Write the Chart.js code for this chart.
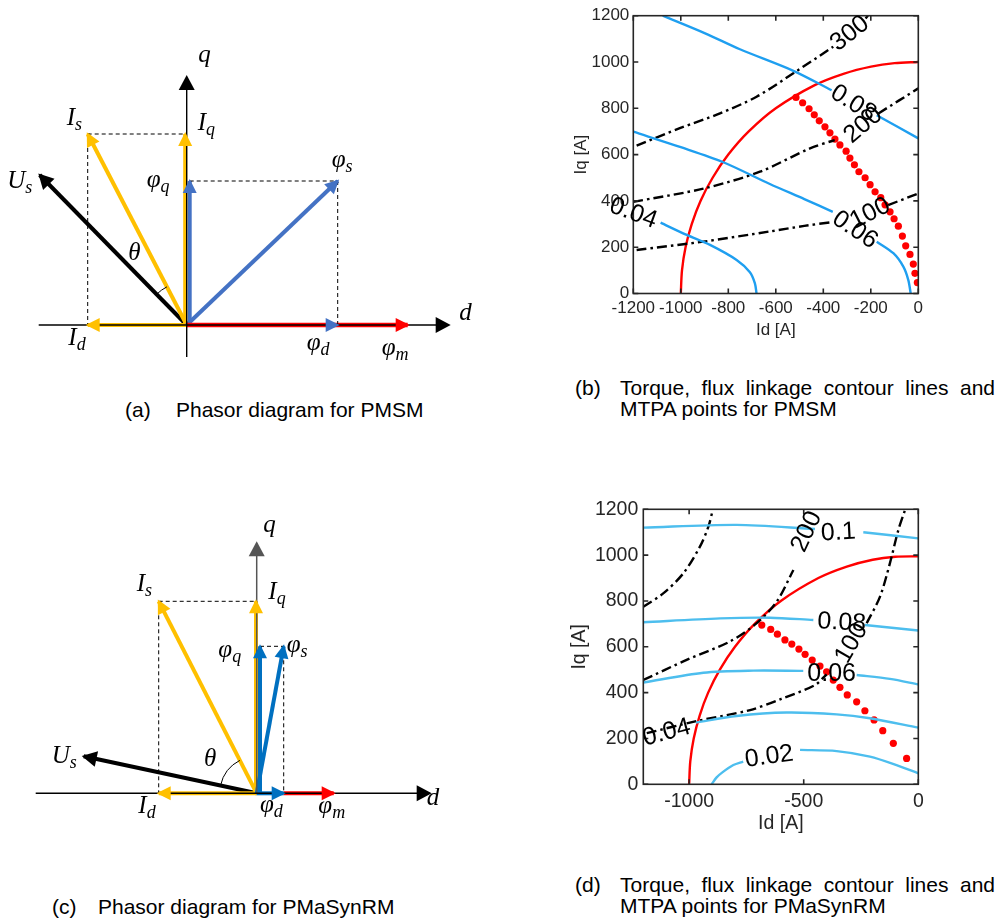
<!DOCTYPE html>
<html>
<head>
<meta charset="utf-8">
<script src="https://cdn.jsdelivr.net/npm/chart.js@4/dist/chart.umd.min.js"></script>
<style>
  html, body { margin: 0; padding: 0; background: #fff; }
  body { width: 1003px; height: 918px; position: relative; overflow: hidden;
         font-family: "Liberation Sans", Arial, sans-serif; color: #000; }
  canvas { position: absolute; }
  .cap { position: absolute; font-size: 21px; line-height: 21px; white-space: nowrap; }
  .just { width: 375px; white-space: normal; text-align: justify; text-align-last: justify; }
</style>
</head>
<body>
<canvas id="chartA" width="480" height="330" style="left:0;top:40px"></canvas>
<canvas id="chartB" width="440" height="345" style="left:560px;top:0"></canvas>
<canvas id="chartC" width="480" height="335" style="left:0;top:505px"></canvas>
<canvas id="chartD" width="440" height="350" style="left:560px;top:490px"></canvas>

<div class="cap" style="left:125px;top:399px">(a)</div>
<div class="cap" style="left:176px;top:399px">Phasor diagram for PMSM</div>
<div class="cap" style="left:575px;top:377px">(b)</div>
<div class="cap just" style="left:620px;top:377px">Torque, flux linkage contour lines and</div>
<div class="cap" style="left:620px;top:398px">MTPA points for PMSM</div>
<div class="cap" style="left:52px;top:896px">(c)</div>
<div class="cap" style="left:98px;top:896px">Phasor diagram for PMaSynRM</div>
<div class="cap" style="left:575px;top:874px">(d)</div>
<div class="cap just" style="left:620px;top:874px">Torque, flux linkage contour lines and</div>
<div class="cap" style="left:620px;top:895px">MTPA points for PMaSynRM</div>

<script>
// ---- (a) PMSM phasors, diagram units, origin at 0,0 ----
const aAxisD = [[-148, 0], [262, 0]];
const aAxisQ = [[0, -32], [0, 248]];
const aIs = [-99, 191];
const aIq = [-1.5, 191];
const aId = [-99, 0];
const aUs = [-147, 150];
const aPsiS = [151, 144];
const aPsiQ = [3, 144];
const aPsiD = [151, 0];
const aPsiM = [[0, 0], [221, 0]];

// ---- (c) PMaSynRM phasors ----
const cAxisD = [[-221, 0], [173, 0]];
const cAxisQ = [[0, 0], [0, 250]];
const cIs = [-98, 192];
const cIq = [-0.7, 192];
const cId = [-98, 0];
const cUs = [-173, 37];
const cPsiS = [27, 147];
const cPsiQ = [3.3, 147];
const cPsiD = [27, 0];
const cPsiM = [[27, 0], [77, 0]];

// ---- (b) PMSM contours [Id, Iq] ----
const bXTicks = [-1200, -1000, -800, -600, -400, -200, 0];
const bYTicks = [0, 200, 400, 600, 800, 1000, 1200];
const bCircle = [[-1000,0],[-995,100],[-980,200],[-954,300],[-917,400],[-866,500],[-800,600],[-714,700],[-600,800],[-436,900],[-312,950],[-199,980],[-100,995],[0,1000]];
const bFlux004 = [[-1085,306],[-975,253],[-877,210],[-765,145],[-709,92],[-688,44],[-681,0]];
const bFlux006 = [[-1200,699],[-1000,632],[-821,567],[-625,473],[-480,408],[-360,353],null,[-175,224],[-105,174],[-63,116],[-42,58],[-32,0]];
const bFlux008 = [[-1076,1200],[-900,1125],[-751,1055],[-526,962],[-365,878],null,[-175,770],[0,670]];
const bTorque100 = [[-1186,188],[-905,224],[-625,268],[-480,292],[-359,309],null,[-127,382],[0,432]];
const bTorque200 = [[-1200,396],[-905,453],[-667,526],[-456,627],[-352,663],null,[-168,778],[0,886]];
const bTorque300 = [[-1186,639],[-1004,714],[-835,778],[-681,850],[-512,961],[-358,1066],null,[-222,1188],[-212,1200]];
const bMtpa = [[-515,847],[-487,824],[-460,798],[-438,772],[-417,746],[-393,720],[-372,694],[-351,667],[-330,642],[-304,615],[-288,585],[-269,556],[-250,526],[-224,500],[-203,470],[-182,439],[-158,414],[-140,383],[-119,353],[-102,323],[-84,291],[-67,248],[-53,206],[-35,169],[-21,127],[-14,87],[-4,47]];
const bLabels = [["300",-288,1123,-38],["0.08",-274,821,32],["200",-232,727,-40],["100",-203,346,-27],["0.06",-267,274,34],["0.04",-1200,346,20]];

// ---- (d) PMaSynRM contours [Id, Iq] ----
const dXTicks = [-1000, -500, 0];
const dYTicks = [0, 200, 400, 600, 800, 1000, 1200];
const dCircle = [[-1000,0],[-995,100],[-980,200],[-954,300],[-917,400],[-866,500],[-800,600],[-714,700],[-600,800],[-436,900],[-312,950],[-199,980],[-100,993],[0,995]];
const dFlux002 = [[-902,0],[-880,30],[-855,52],[-807,84],[-764,99],null,[-516,150],[-356,145],[-211,121],[-95,84],[0,48]];
const dFlux004 = [[-970,269],[-793,298],[-575,313],[-356,305],[-211,288],[0,247]];
const dFlux006 = [[-1200,444],[-938,487],[-720,496],[-502,495],null,[-269,477],[-124,460],[0,436]];
const dFlux008 = [[-1200,707],[-865,724],[-647,727],[-458,717],null,[-233,695],[0,671]];
const dFlux010 = [[-1200,1120],[-793,1132],[-451,1114],null,[-240,1100],[0,1073]];
const dTorque100 = [[-1185,223],[-967,276],[-734,324],[-600,372],[-451,433],[-400,480],null,[-225,703],[-167,819],[-124,964],[-87,1110],[-58,1197]];
const dTorque200 = [[-1200,455],[-1011,543],[-822,623],[-705,703],[-618,797],[-545,935]];
const dTorque300 = [[-1200,775],[-1113,833],[-1025,921],[-953,1037],[-916,1124],[-897,1197]];
const dMtpa = [[-683,695],[-644,676],[-615,655],[-582,630],[-552,612],[-521,590],[-494,567],[-463,542],[-429,516],[-400,491],[-371,455],[-342,423],[-310,390],[-269,360],[-233,321],[-193,281],[-155,234],[-109,179],[-51,113]];
const dLabels = [["0.1",-349,1098,-3],["200",-487,1102,-65],["0.08",-334,705,3],["100",-291,615,-60],["0.06",-378,481,0],["0.04",-1098,225,-15],["0.02",-651,120,-8]];

const SANS = '"Liberation Sans", Arial, sans-serif';
const SERIF = '"Liberation Serif", "DejaVu Serif", serif';
const YELLOW = '#ffc000', RED = '#ff0000';

const xy = p => p ? { x: p[0], y: p[1] } : { x: null, y: null };

function arrow(from, to, color, width, head) {
  return { data: [xy(from), xy(to)], showLine: true, borderColor: color, backgroundColor: color,
           borderWidth: width, pointRadius: 0, borderCapStyle: 'butt', head: head };
}
function dashed(from, to) {
  return { data: [xy(from), xy(to)], showLine: true, borderColor: '#000', borderWidth: 1,
           borderDash: [4, 3], pointRadius: 0 };
}

// arrowheads, theta arc and italic labels
const phasorDecor = {
  id: 'phasorDecor',
  afterDatasetsDraw(chart, args, opts) {
    const { ctx } = chart;
    const sx = chart.scales.x, sy = chart.scales.y;
    const px = v => sx.getPixelForValue(v), py = v => sy.getPixelForValue(v);
    ctx.save();
    chart.data.datasets.forEach(ds => {
      if (!ds.head) return;
      const n = ds.data.length, a = ds.data[n - 2], b = ds.data[n - 1];
      const x1 = px(a.x), y1 = py(a.y), x2 = px(b.x), y2 = py(b.y);
      const ang = Math.atan2(y2 - y1, x2 - x1), c = Math.cos(ang), s = Math.sin(ang);
      const [len, hw] = ds.head;
      const tx = x2 + c * 2, ty = y2 + s * 2;
      const bx = tx - c * len, by = ty - s * len;
      ctx.beginPath();
      ctx.moveTo(tx, ty);
      ctx.lineTo(bx - s * hw, by + c * hw);
      ctx.lineTo(bx + s * hw, by - c * hw);
      ctx.closePath();
      ctx.fillStyle = ds.borderColor;
      ctx.fill();
    });

    const arc = opts.arc;
    const a1 = Math.atan2(-arc.from[1], arc.from[0]);
    const a2 = Math.atan2(-arc.to[1], arc.to[0]);
    ctx.beginPath();
    ctx.arc(px(0), py(0), arc.r * (px(1) - px(0)), Math.min(a1, a2), Math.max(a1, a2));
    ctx.strokeStyle = '#000';
    ctx.lineWidth = 1;
    ctx.stroke();

    ctx.fillStyle = '#000';
    ctx.textBaseline = 'alphabetic';
    ctx.textAlign = 'left';
    opts.labels.forEach(([main, sub, lx, ly]) => {
      const x = px(lx), y = py(ly);
      ctx.font = 'italic 25px ' + SERIF;
      ctx.fillText(main, x, y);
      if (sub) {
        const w = ctx.measureText(main).width;
        ctx.font = 'italic 18px ' + SERIF;
        ctx.fillText(sub, x + w, y + 5);
      }
    });
    ctx.restore();
  }
};

function phasorChart(id, range, datasets, labels, arc) {
  new Chart(document.getElementById(id), {
    type: 'scatter',
    data: { datasets },
    options: {
      responsive: false, animation: false, events: [],
      layout: { padding: 0 },
      scales: {
        x: { type: 'linear', display: false, min: range[0], max: range[1] },
        y: { type: 'linear', display: false, min: range[2], max: range[3] }
      },
      plugins: { legend: { display: false }, tooltip: { enabled: false }, phasorDecor: { labels, arc } }
    },
    plugins: [phasorDecor]
  });
}

phasorChart('chartA', [-186.7, 293.3, -45, 285], [
  arrow(aAxisD[0], aAxisD[1], '#000', 1.4, [15, 8]),
  arrow(aAxisQ[0], aAxisQ[1], '#000', 1.4, [15, 8]),
  dashed(aIs, aIq), dashed(aIs, aId), dashed(aPsiQ, aPsiS), dashed(aPsiS, aPsiD),
  arrow(aPsiM[0], aPsiM[1], RED, 4.5, [14, 7]),
  arrow([0, 0], aPsiD, '#4472c4', 3, [14, 7]),
  arrow([0, 0], aPsiS, '#4472c4', 4, [14, 7]),
  arrow([aPsiQ[0], 0], aPsiQ, '#4472c4', 4, [14, 7]),
  arrow([0, 0], aId, YELLOW, 4, [14, 7]),
  arrow([aIq[0], 0], aIq, YELLOW, 4, [14, 7]),
  arrow([0, 0], aIs, YELLOW, 4, [14, 7]),
  arrow([0, 0], aUs, '#000', 4, [15, 8])
], [
  ['q', '', 11.6, 263.3], ['d', '', 272.6, 5], ['I', 's', -120, 200], ['I', 'q', 11, 195],
  ['U', 's', -179.4, 136.7], ['φ', 's', 145, 158.3], ['φ', 'q', -40, 138.3],
  ['I', 'd', -118.4, -20], ['φ', 'd', 120, -25], ['φ', 'm', 195, -30], ['θ', '', -58.4, 65]
], { from: aUs, to: aIs, r: 43 });

phasorChart('chartC', [-256.7, 223.3, -46.7, 288.3], [
  arrow(cAxisD[0], cAxisD[1], '#000', 1.4, [15, 8]),
  arrow(cAxisQ[0], cAxisQ[1], '#555', 1.5, [15, 8]),
  dashed(cIs, cIq), dashed(cIs, cId), dashed(cPsiQ, cPsiS), dashed(cPsiS, cPsiD),
  arrow(cPsiM[0], cPsiM[1], RED, 4, [14, 7]),
  arrow([0, 0], cPsiD, '#0070c0', 4, [14, 7]),
  arrow([0, 0], cPsiS, '#0070c0', 4, [14, 7]),
  arrow([cPsiQ[0], 0], cPsiQ, '#0070c0', 4, [14, 7]),
  arrow([0, 0], cId, YELLOW, 4, [14, 7]),
  arrow([cIq[0], 0], cIq, YELLOW, 4, [14, 7]),
  arrow([0, 0], cIs, YELLOW, 4, [14, 7]),
  arrow([0, 0], cUs, '#000', 4, [15, 8])
], [
  ['q', '', 6.6, 261.6], ['d', '', 170, -11.7], ['I', 's', -120, 202.6], ['I', 'q', 11.6, 194],
  ['U', 's', -205, 30], ['φ', 's', 30, 141.6], ['φ', 'q', -38.4, 136.6],
  ['I', 'd', -118.4, -20], ['φ', 'd', 3.3, -18.4], ['φ', 'm', 61.6, -20], ['θ', '', -52.7, 27.3]
], { from: cUs, to: cIs, r: 37 });

// ---- contour panels ----
function curve(pts, color, dash) {
  return { data: pts.map(xy), showLine: true, borderColor: color, borderWidth: 2.4,
           borderDash: dash || [], pointRadius: 0, spanGaps: false, tension: 0.3 };
}
const DASHDOT = [10, 4, 2.5, 4];

const matlabBox = {
  id: 'matlabBox',
  afterDraw(chart, args, opts) {
    const { ctx, chartArea: a } = chart;
    const sx = chart.scales.x, sy = chart.scales.y;
    ctx.save();
    ctx.strokeStyle = '#262626';
    ctx.lineWidth = 1.6;
    ctx.strokeRect(a.left, a.top, a.right - a.left, a.bottom - a.top);
    ctx.beginPath();
    sx.ticks.forEach(t => {
      const x = sx.getPixelForValue(t.value);
      ctx.moveTo(x, a.bottom); ctx.lineTo(x, a.bottom - 5);
      ctx.moveTo(x, a.top); ctx.lineTo(x, a.top + 5);
    });
    sy.ticks.forEach(t => {
      const y = sy.getPixelForValue(t.value);
      ctx.moveTo(a.left, y); ctx.lineTo(a.left + 5, y);
      ctx.moveTo(a.right, y); ctx.lineTo(a.right - 5, y);
    });
    ctx.stroke();
    ctx.fillStyle = '#000';
    ctx.font = '25px ' + SANS;
    ctx.textAlign = 'center';
    ctx.textBaseline = 'middle';
    opts.labels.forEach(([t, lx, ly, rot]) => {
      ctx.save();
      ctx.translate(sx.getPixelForValue(lx), sy.getPixelForValue(ly));
      ctx.rotate(rot * Math.PI / 180);
      ctx.fillText(t, 0, 0);
      ctx.restore();
    });
    ctx.restore();
  }
};

function contourChart(id, o) {
  const tickFont = { family: SANS, size: o.font };
  new Chart(document.getElementById(id), {
    type: 'scatter',
    data: { datasets: o.datasets },
    options: {
      responsive: false, animation: false, events: [],
      layout: { padding: o.padding },
      scales: {
        x: {
          type: 'linear', min: -1200, max: 0,
          afterBuildTicks: s => { s.ticks = o.xTicks.map(v => ({ value: v })); },
          afterFit: s => { s.height = o.xHeight; },
          grid: { display: false, drawTicks: false }, border: { display: false },
          ticks: { font: tickFont, color: '#262626', padding: o.xTickPad, maxRotation: 0, autoSkip: false,
                   callback: v => String(v) },
          title: { display: true, text: 'Id [A]', font: tickFont, color: '#262626',
                   padding: { top: 0, bottom: o.xTitlePad } }
        },
        y: {
          type: 'linear', min: 0, max: 1200,
          afterBuildTicks: s => { s.ticks = o.yTicks.map(v => ({ value: v })); },
          afterFit: s => { s.width = o.yWidth; },
          grid: { display: false, drawTicks: false }, border: { display: false },
          ticks: { font: tickFont, color: '#262626', padding: o.yTickPad, autoSkip: false,
                   callback: v => String(v) },
          title: { display: true, text: 'Iq [A]', font: tickFont, color: '#262626',
                   padding: { top: o.yTitlePad, bottom: 0 } }
        }
      },
      plugins: { legend: { display: false }, tooltip: { enabled: false }, matlabBox: { labels: o.labels } }
    },
    plugins: [matlabBox]
  });
}

const B_BLUE = '#1f9ff0', D_BLUE = '#4dbeee';

contourChart('chartB', {
  font: 17, padding: { left: 0, top: 15.7, right: 81.7, bottom: 0 },
  xHeight: 51.5, yWidth: 73.3, xTickPad: 4.6, xTitlePad: 4.8, yTickPad: 4, yTitlePad: 11.5,
  xTicks: bXTicks, yTicks: bYTicks, labels: bLabels,
  datasets: [
    curve(bFlux004, B_BLUE), curve(bFlux006, B_BLUE), curve(bFlux008, B_BLUE),
    curve(bTorque100, '#000', DASHDOT), curve(bTorque200, '#000', DASHDOT), curve(bTorque300, '#000', DASHDOT),
    curve(bCircle, RED),
    { data: bMtpa.map(xy), showLine: false, pointRadius: 3.6, pointBackgroundColor: RED, pointBorderWidth: 0 }
  ]
});

contourChart('chartD', {
  font: 19.5, padding: { left: 0, top: 19.3, right: 81.7, bottom: 0 },
  xHeight: 55.7, yWidth: 83.3, xTickPad: 5.7, xTitlePad: 5, yTickPad: 5, yTitlePad: 8.3,
  xTicks: dXTicks, yTicks: dYTicks, labels: dLabels,
  datasets: [
    curve(dFlux002, D_BLUE), curve(dFlux004, D_BLUE), curve(dFlux006, D_BLUE),
    curve(dFlux008, D_BLUE), curve(dFlux010, D_BLUE),
    curve(dTorque100, '#000', DASHDOT), curve(dTorque200, '#000', DASHDOT), curve(dTorque300, '#000', DASHDOT),
    curve(dCircle, RED),
    { data: dMtpa.map(xy), showLine: false, pointRadius: 3.6, pointBackgroundColor: RED, pointBorderWidth: 0 }
  ]
});
</script>
</body>
</html>
